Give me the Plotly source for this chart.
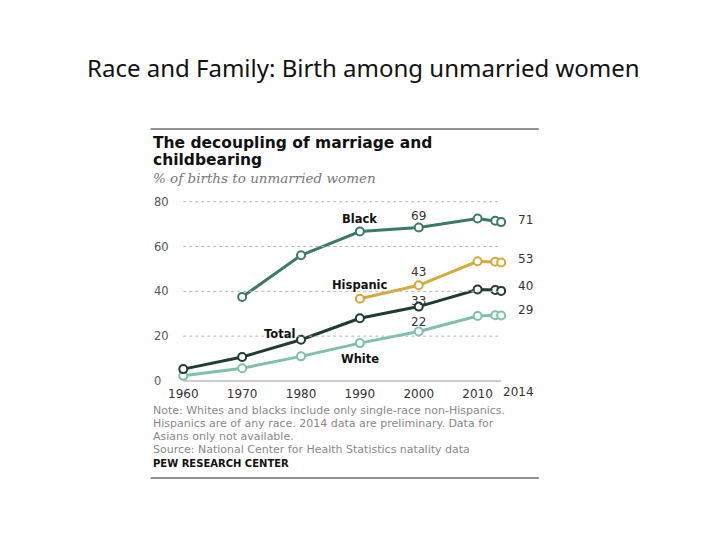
import plotly.graph_objects as go

W, H = 720, 540

# ---- data ----
years_black = [1970, 1980, 1990, 2000, 2010, 2013, 2014]
black = [37.5, 56.1, 66.7, 68.5, 72.5, 71.5, 70.9]

years_hisp = [1990, 2000, 2010, 2013, 2014]
hispanic = [36.7, 42.7, 53.4, 53.2, 52.9]

years_all = [1960, 1970, 1980, 1990, 2000, 2010, 2013, 2014]
total = [5.3, 10.7, 18.4, 28.0, 33.2, 40.8, 40.6, 40.2]
white = [2.3, 5.7, 11.0, 16.9, 22.1, 29.0, 29.3, 29.2]

x_ticks = [1960, 1970, 1980, 1990, 2000, 2010]
x_last_tick = 2014
y_ticks = [0, 20, 40, 60, 80]

# value labels: (year, value, text, yshift)
mid_labels = [(2000, 68.5, "69", 10), (2000, 42.7, "43", 12),
              (2000, 33.2, "33", 5), (2000, 22.1, "22", 8)]
end_labels = [(2014, 70.9, "71", 2), (2014, 52.9, "53", 3),
              (2014, 40.2, "40", 5), (2014, 29.2, "29", 6)]

C_BLACK = "#3c7a66"
C_HISP = "#d3aa3c"
C_TOTAL = "#1f3b32"
C_WHITE = "#7ec0ae"

# ---- plot geometry (pixels) ----
PX_L, PX_R = 170, 505
PX_T, PX_B = 195, 385
px_per_year = (499 - 178) / 54.0
px_per_unit = (381 - 201.7) / 80.0
x_range = [1960 - (178 - PX_L) / px_per_year, 2014 + (PX_R - 499) / px_per_year]
y_range = [0 - (PX_B - 381) / px_per_unit, 80 + (201.7 - PX_T) / px_per_unit]


def py(px):
    return 1 - px / H


def pxx(px):
    return px / W


fig = go.Figure()


def add_series(xs, ys, color, name):
    fig.add_trace(go.Scatter(
        x=xs, y=ys, mode="lines+markers", name=name,
        line=dict(color=color, width=3),
        marker=dict(symbol="circle", size=8, color="white",
                    line=dict(color=color, width=2)),
        cliponaxis=False, showlegend=False, hoverinfo="skip"))


add_series(years_all, white, C_WHITE, "White")
add_series(years_all, total, C_TOTAL, "Total")
add_series(years_hisp, hispanic, C_HISP, "Hispanic")
add_series(years_black, black, C_BLACK, "Black")

shapes = []
for v in y_ticks:
    if v == 0:
        shapes.append(dict(type="line", xref="x", yref="y", x0=1960, x1=2014,
                           y0=v, y1=v, line=dict(color="#9a9a9a", width=1)))
    else:
        shapes.append(dict(type="line", xref="x", yref="y", x0=1960, x1=2014,
                           y0=v, y1=v, line=dict(color="#b5b5b5", width=1, dash="dot")))
# top & bottom rules
shapes.append(dict(type="line", xref="paper", yref="paper", x0=pxx(145), x1=pxx(537),
                   y0=py(129), y1=py(129), line=dict(color="#222", width=1.2)))
shapes.append(dict(type="line", xref="paper", yref="paper", x0=pxx(145), x1=pxx(537),
                   y0=py(478), y1=py(478), line=dict(color="#222", width=1.2)))

ann = []
NUMFONT = dict(family="DejaVu Sans", size=12, color="#333333")
BOLDF = "DejaVu Sans"

# y tick labels (left aligned)
for v in y_ticks:
    ann.append(dict(x=pxx(146), xref="paper", y=v, yref="y", text=str(v),
                    showarrow=False, xanchor="left", yanchor="middle",
                    font=dict(family="DejaVu Sans", size=11.5, color="#555555")))
# last x tick (shifted to avoid overlap)
ann.append(dict(x=x_last_tick, xref="x", y=py(392), yref="paper", text=str(x_last_tick),
                showarrow=False, xanchor="center", yanchor="middle", xshift=17,
                font=dict(family="DejaVu Sans", size=12, color="#333333")))

for (xv, yv, t, ys) in mid_labels:
    ann.append(dict(x=xv, y=yv, xref="x", yref="y", text=t, showarrow=False,
                    yanchor="bottom", yshift=ys - 8, font=NUMFONT))
for (xv, yv, t, ys) in end_labels:
    ann.append(dict(x=xv, y=yv, xref="x", yref="y", text=t, showarrow=False,
                    xanchor="left", yanchor="middle", xshift=15, yshift=ys, font=NUMFONT))

# series name labels
for (xv, yv, t) in [(1990, 72.4, "Black"), (1990, 42.9, "Hispanic"),
                    (1976.4, 21.0, "Total"), (1990, 9.8, "White")]:
    ann.append(dict(x=xv, y=yv, xref="x", yref="y", text="<b>%s</b>" % t,
                    showarrow=False, font=dict(family=BOLDF, size=11.5, color="#111111")))

# slide title
ann.append(dict(x=pxx(360), y=py(68), xref="paper", yref="paper",
                text="Race and Family: Birth among unmarried women", showarrow=False,
                xanchor="center", yanchor="middle",
                font=dict(family="Noto Sans", size=24, color="#111111")))
# chart title (two lines)
for txt, ypx in [("The decoupling of marriage and", 143), ("childbearing", 160)]:
    ann.append(dict(x=pxx(145), y=py(ypx), xref="paper", yref="paper",
                    text="<b>%s</b>" % txt, showarrow=False,
                    xanchor="left", yanchor="middle", align="left",
                    font=dict(family=BOLDF, size=15.5, color="#111111")))
ann.append(dict(x=pxx(145), y=py(178), xref="paper", yref="paper",
                text="<i>% of births to unmarried women</i>", showarrow=False,
                xanchor="left", yanchor="middle",
                font=dict(family="DejaVu Serif", size=13.5, color="#777777")))
# notes
notes = ["Note: Whites and blacks include only single-race non-Hispanics.",
         "Hispanics are of any race. 2014 data are preliminary. Data for",
         "Asians only not available."]
for i, line in enumerate(notes):
    ann.append(dict(x=pxx(145), y=py(410 + 13 * i), xref="paper", yref="paper",
                    text=line, showarrow=False, xanchor="left", yanchor="middle",
                    font=dict(family="DejaVu Sans", size=11, color="#888888")))
ann.append(dict(x=pxx(145), y=py(449), xref="paper", yref="paper",
                text="Source: National Center for Health Statistics natality data",
                showarrow=False, xanchor="left", yanchor="middle",
                font=dict(family="DejaVu Sans", size=11, color="#888888")))
ann.append(dict(x=pxx(145), y=py(463), xref="paper", yref="paper",
                text="<b>PEW RESEARCH CENTER</b>", showarrow=False,
                xanchor="left", yanchor="middle",
                font=dict(family=BOLDF, size=10, color="#111111")))

fig.update_layout(
    width=W, height=H,
    margin=dict(l=0, r=0, t=0, b=0),
    paper_bgcolor="white", plot_bgcolor="white",
    shapes=shapes, annotations=ann,
    xaxis=dict(domain=[pxx(PX_L), pxx(PX_R)], range=x_range, showgrid=False,
               zeroline=False, showline=False, tickvals=x_ticks,
               ticktext=[str(t) for t in x_ticks], ticks="", ticklabelstandoff=0,
               tickfont=dict(family="DejaVu Sans", size=12, color="#333333"),
               fixedrange=True),
    yaxis=dict(domain=[py(PX_B), py(PX_T)], range=y_range, showgrid=False,
               zeroline=False, showline=False, showticklabels=False, fixedrange=True),
)

fig.write_html("out.html", config={"displayModeBar": False, "staticPlot": True},
               post_script="document.body.style.margin='0';document.body.style.overflow='hidden';")
